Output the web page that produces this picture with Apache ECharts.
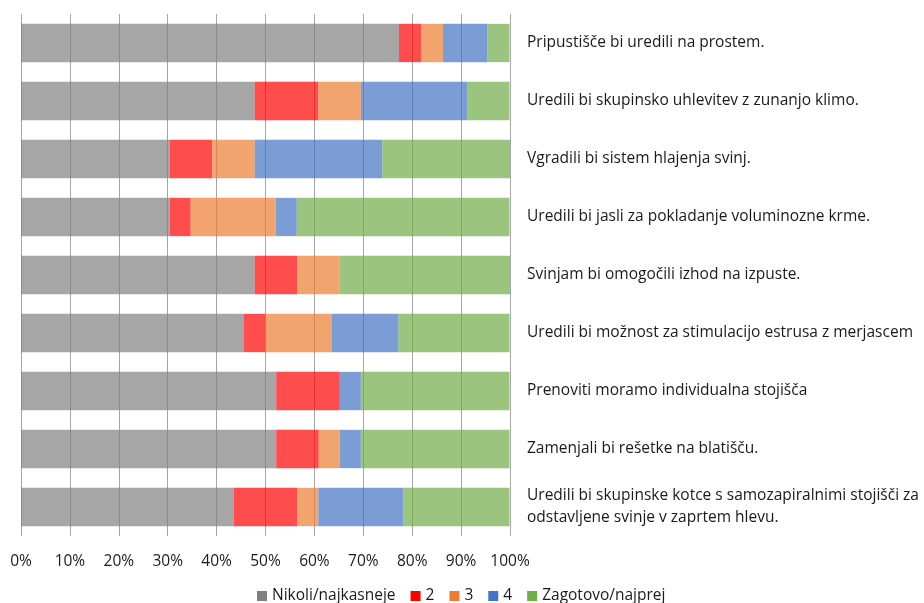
<!DOCTYPE html>
<html>
<head>
<meta charset="utf-8">
<script src="https://cdn.jsdelivr.net/npm/echarts@6/dist/echarts.min.js"></script>
<style>
  html, body { margin: 0; padding: 0; background: #fff; }
  #chart { width: 924px; height: 603px; }
</style>
</head>
<body>
<div id="chart"></div>
<script>
  // trditve (od zgoraj navzdol)
  const categories = [
    'Pripustišče bi uredili na prostem.',
    'Uredili bi skupinsko uhlevitev z zunanjo klimo.',
    'Vgradili bi sistem hlajenja svinj.',
    'Uredili bi jasli za pokladanje voluminozne krme.',
    'Svinjam bi omogočili izhod na izpuste.',
    'Uredili bi možnost za stimulacijo estrusa z merjascem',
    'Prenoviti moramo individualna stojišča',
    'Zamenjali bi rešetke na blatišču.',
    'Uredili bi skupinske kotce s samozapiralnimi stojišči za\nodstavljene svinje v zaprtem hlevu.'
  ]
  const xTicks = [0, 10, 20, 30, 40, 50, 60, 70, 80, 90, 100]

  // deleži odgovorov v %
  const nikoli   = [77.3, 47.8, 30.4, 30.4, 47.8, 45.5, 52.2, 52.2, 43.5]
  const ocena2   = [4.5, 13.0, 8.7, 4.3, 8.7, 4.5, 13.0, 8.7, 13.0]
  const ocena3   = [4.5, 8.7, 8.7, 17.4, 8.7, 13.6, 0, 4.3, 4.3]
  const ocena4   = [9.1, 21.7, 26.1, 4.3, 0, 13.6, 4.3, 4.3, 17.4]
  const zagotovo = [4.5, 8.7, 26.1, 43.5, 34.8, 22.7, 30.4, 30.4, 21.7]

  const seriesNames = ['Nikoli/najkasneje', '2', '3', '4', 'Zagotovo/najprej']
  const seriesData = [nikoli, ocena2, ocena3, ocena4, zagotovo]
  const colors = ['#808080', '#ff0000', '#ed7d31', '#4472c4', '#70ad47']

  const font = '"Open Sans", "Noto Sans", sans-serif'
  const fs = 15.5
  const chart = echarts.init(document.getElementById('chart'))

  const series = seriesData.map((data, i) => {
    return {
      name: seriesNames[i],
      type: 'bar',
      stack: 'total',
      data: data,
      barCategoryGap: '34%',
      itemStyle: { color: colors[i], opacity: 0.7 }
    }
  })

  chart.setOption({
    animation: false,
    textStyle: { fontFamily: font },
    grid: { left: 21, right: 414, top: 14, bottom: 67, containLabel: false },
    xAxis: {
      type: 'value',
      min: 0,
      max: 100,
      interval: 10,
      axisLine: { show: false },
      axisTick: { show: false },
      splitLine: { show: true, lineStyle: { color: '#a6a6a6', width: 1 } },
      axisLabel: {
        margin: 18,
        fontSize: fs,
        color: '#1a1a1a',
        fontFamily: font,
        formatter: v => xTicks.indexOf(v) >= 0 ? v + '%' : ''
      }
    },
    yAxis: {
      type: 'category',
      data: categories,
      inverse: true,
      position: 'right',
      axisLine: { show: false },
      axisTick: { show: false },
      axisLabel: {
        margin: 17,
        fontSize: fs,
        lineHeight: 22,
        color: '#1a1a1a',
        fontFamily: font,
        align: 'left',
        padding: [3, 0, 0, 0]
      }
    },
    legend: {
      top: 588,
      left: 257,
      itemWidth: 10,
      itemHeight: 10,
      itemGap: 15,
      icon: 'rect',
      padding: 0,
      textStyle: { fontSize: fs, color: '#1a1a1a', fontFamily: font },
      data: seriesNames.map((n, i) => ({ name: n, itemStyle: { color: colors[i], opacity: 1 } }))
    },
    series: series
  })
</script>
</body>
</html>
